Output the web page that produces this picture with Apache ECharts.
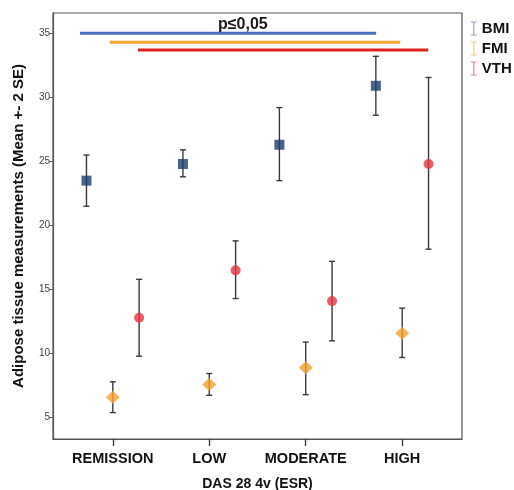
<!DOCTYPE html>
<html>
<head>
<meta charset="utf-8">
<script src="https://cdn.jsdelivr.net/npm/echarts@6/dist/echarts.min.js"></script>
<style>html,body{margin:0;padding:0;background:#fff}#c{width:514px;height:490px}</style>
</head>
<body>
<div id="c"></div>
<script>
var categories = ['REMISSION', 'LOW', 'MODERATE', 'HIGH'];
var yTicks = [5, 10, 15, 20, 25, 30, 35];

var bmiMean = [23.5, 24.8, 26.3, 30.9];
var bmiLow  = [21.5, 23.8, 23.5, 28.6];
var bmiHigh = [25.5, 25.9, 29.2, 33.2];

var fmiMean = [6.6, 7.6, 8.9, 11.6];
var fmiLow  = [5.4, 6.75, 6.8, 9.7];
var fmiHigh = [7.8, 8.45, 10.9, 13.55];

var vthMean = [12.8, 16.5, 14.1, 24.8];
var vthLow  = [9.8, 14.3, 11.0, 18.15];
var vthHigh = [15.8, 18.8, 17.2, 31.55];

// significance bars (from REMISSION group to HIGH group)
var sigLevel = [35.0, 34.3, 33.7];
var sigStart = [-0.34, -0.03, 0.26];
var sigEnd   = [2.73, 2.98, 3.27];

var FONT = '"Liberation Sans", Arial, sans-serif';
var OFF = 0.273;

function pts(mean, off) { return mean.map(function (v, i) { return [i + off, v]; }); }
function errs(lo, hi, off) { return lo.map(function (v, i) { return [i + off, v, hi[i]]; }); }

function errItem(params, api) {
  var x = api.value(0);
  var p1 = api.coord([x, api.value(1)]);
  var p2 = api.coord([x, api.value(2)]);
  var w = 3;
  var st = { stroke: '#3a3a3a', lineWidth: 1.4 };
  return {
    type: 'group',
    children: [
      { type: 'line', shape: { x1: p1[0], y1: p1[1], x2: p2[0], y2: p2[1] }, style: st },
      { type: 'line', shape: { x1: p1[0] - w, y1: p1[1], x2: p1[0] + w, y2: p1[1] }, style: st },
      { type: 'line', shape: { x1: p2[0] - w, y1: p2[1], x2: p2[0] + w, y2: p2[1] }, style: st }
    ]
  };
}

var ibeam = 'path://M0,0h8v1.6h-3.2v16.8h3.2v1.6h-8v-1.6h3.2v-16.8h-3.2z';
var sigColors = ['#4a6fc0', '#f4a52e', '#e0201e'];

var series = [
  { type: 'custom', name: 'errB', renderItem: errItem, data: errs(bmiLow, bmiHigh, -OFF), z: 2, silent: true },
  { type: 'custom', name: 'errF', renderItem: errItem, data: errs(fmiLow, fmiHigh, 0), z: 2, silent: true },
  { type: 'custom', name: 'errV', renderItem: errItem, data: errs(vthLow, vthHigh, OFF), z: 2, silent: true },
  { type: 'scatter', name: 'BMI', data: pts(bmiMean, -OFF), symbol: 'rect', symbolSize: 10,
    itemStyle: { color: '#1c3c6e' }, z: 5 },
  { type: 'scatter', name: 'FMI', data: pts(fmiMean, 0), symbol: 'diamond', symbolSize: [14, 13],
    itemStyle: { color: '#f2a12c' }, z: 5 },
  { type: 'scatter', name: 'VTH', data: pts(vthMean, OFF), symbol: 'circle', symbolSize: 10,
    itemStyle: { color: '#e63340' }, z: 5 }
];
sigLevel.forEach(function (lv, i) {
  series.push({
    type: 'line', name: 'sig' + i, data: [[sigStart[i], lv], [sigEnd[i], lv]],
    symbol: 'none', lineStyle: { color: sigColors[i], width: 3 }, z: 3, silent: true
  });
});

var chart = echarts.init(document.getElementById('c'));
chart.setOption({
  animation: false,
  textStyle: { fontFamily: FONT },
  grid: { left: 53, right: 52, top: 13, bottom: 51, show: true, borderColor: '#555', borderWidth: 1.2,
    containLabel: false, outerBoundsMode: 'none' },
  legend: {
    orient: 'vertical', left: 466, top: 16, itemGap: 5, itemWidth: 6, itemHeight: 14,
    textStyle: { fontFamily: FONT, fontWeight: 'bold', fontSize: 15, color: '#111', lineHeight: 15 },
    data: [
      { name: 'BMI', icon: ibeam, itemStyle: { color: '#7189c4' } },
      { name: 'FMI', icon: ibeam, itemStyle: { color: '#f2b65c' } },
      { name: 'VTH', icon: ibeam, itemStyle: { color: '#d9606a' } }
    ],
    selectedMode: false
  },
  graphic: [{
    type: 'text', left: 218, top: 17, z: 10,
    style: { text: 'p≤0,05', font: 'bold 16px ' + FONT, fill: '#1a1a1a' }
  }],
  xAxis: {
    type: 'value', min: -0.62, max: 3.62,
    name: 'DAS 28 4v (ESR)', nameLocation: 'middle', nameGap: 38,
    nameTextStyle: { fontFamily: FONT, fontWeight: 'bold', fontSize: 14, color: '#111' },
    axisLine: { show: true, onZero: false, lineStyle: { color: '#555', width: 1.2 } },
    axisTick: { show: true, length: 7, customValues: [0, 1, 2, 3], lineStyle: { color: '#333', width: 1.3 } },
    axisLabel: { customValues: [0, 1, 2, 3], margin: 12, fontSize: 14.5, fontWeight: 'bold', color: '#111',
      formatter: function (v) { return categories[Math.round(v)]; } },
    splitLine: { show: false }
  },
  yAxis: {
    type: 'value', min: 3.34, max: 36.58,
    name: 'Adipose tissue measurements (Mean +- 2 SE)', nameLocation: 'middle', nameGap: 27,
    nameTextStyle: { fontFamily: FONT, fontWeight: 'bold', fontSize: 15, color: '#111' },
    axisLine: { show: true, onZero: false, lineStyle: { color: '#555', width: 1.2 } },
    axisTick: { show: true, length: 4, customValues: yTicks, lineStyle: { color: '#555' } },
    axisLabel: { customValues: yTicks, margin: 3, fontSize: 10, color: '#444' },
    splitLine: { show: false }
  },
  series: series
});
</script>
</body>
</html>
